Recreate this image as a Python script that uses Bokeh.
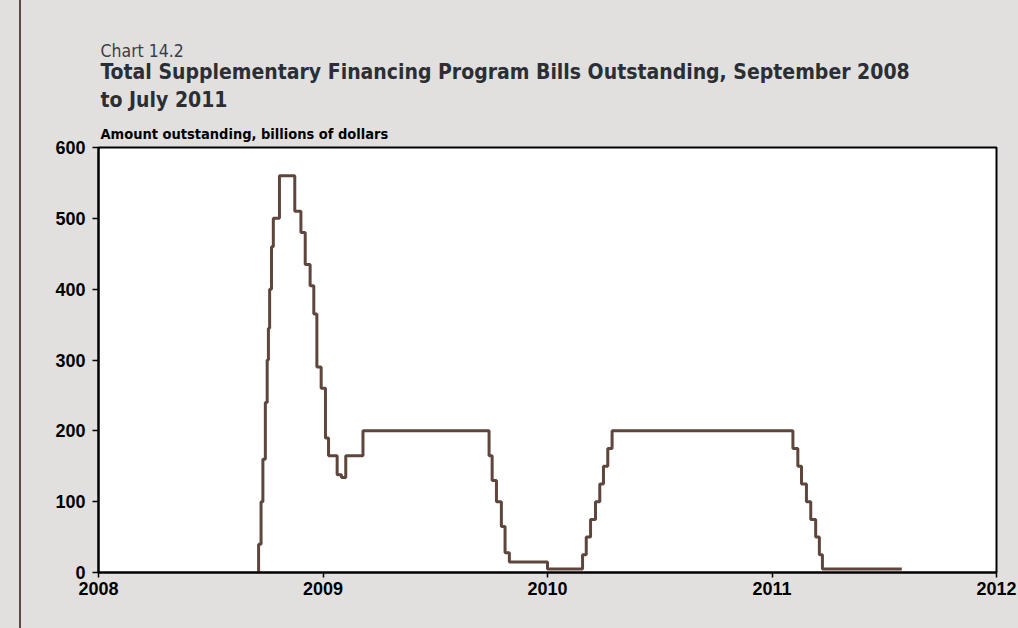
import pandas as pd
from bokeh.plotting import figure
from bokeh.models import Title, FixedTicker, Range1d
from bokeh.embed import file_html
from bokeh.resources import INLINE

# ---- data ----
dates = ["2008-09-17", "2008-09-18", "2008-09-22", "2008-09-25", "2008-09-29", "2008-10-02",
         "2008-10-04", "2008-10-06", "2008-10-09", "2008-10-12", "2008-10-22", "2008-11-16",
         "2008-11-26", "2008-12-03", "2008-12-11", "2008-12-17", "2008-12-22", "2008-12-29",
         "2009-01-05", "2009-01-10", "2009-01-24", "2009-01-31", "2009-02-07", "2009-03-07",
         "2009-09-28", "2009-10-03", "2009-10-10", "2009-10-18", "2009-10-24", "2009-10-31",
         "2010-01-01", "2010-02-27", "2010-03-05", "2010-03-12", "2010-03-20", "2010-03-27",
         "2010-04-02", "2010-04-09", "2010-04-16", "2011-02-04", "2011-02-12", "2011-02-18",
         "2011-02-26", "2011-03-05", "2011-03-13", "2011-03-19", "2011-03-24", "2011-07-31"]
values = [0, 40, 100, 160, 240, 300, 345, 400, 460, 500, 560, 510,
          480, 435, 405, 365, 290, 260, 190, 165, 138, 134, 165, 200,
          165, 130, 100, 65, 28, 15, 5, 25, 50, 75, 100, 125,
          150, 175, 200, 175, 150, 125, 100, 75, 50, 25, 5, 5]
x_ticks = [2008, 2009, 2010, 2011, 2012]
x_tick_labels = ["2008", "2009", "2010", "2011", "2012"]
y_ticks = [0, 100, 200, 300, 400, 500, 600]

chart_no = "Chart 14.2"
title_1 = "Total Supplementary Financing Program Bills Outstanding, September 2008"
title_2 = "to July 2011"
subtitle = "Amount outstanding, billions of dollars"


def to_year(s):
    d = pd.Timestamp(s)
    start = pd.Timestamp(year=d.year, month=1, day=1)
    end = pd.Timestamp(year=d.year + 1, month=1, day=1)
    return d.year + (d - start) / (end - start)


xs = [to_year(d) for d in dates]

BG = "#e2e0de"
RULE = "#5b4a41"
LINE = "#5e463d"
COND = "'DejaVu Sans Condensed', 'Liberation Sans', sans-serif"

p = figure(width=1018, height=628, x_range=Range1d(2008, 2012), y_range=Range1d(0, 600),
           output_backend="svg", toolbar_location=None, title=None,
           min_border_left=98, min_border_right=22, min_border_top=147, min_border_bottom=56,
           background_fill_color="white", border_fill_color=None,
           styles={"background": f"linear-gradient(to right, {BG} 19px, {RULE} 19px, "
                                 f"{RULE} 21.5px, {BG} 21.5px)"})
p.grid.visible = False
p.outline_line_color = "black"
p.outline_line_width = 2

p.step(xs, values, mode="after", line_color=LINE, line_width=3)

for ax in (p.xaxis[0], p.yaxis[0]):
    ax.axis_line_color = "black"
    ax.axis_line_width = 2
    ax.major_tick_line_color = "black"
    ax.major_tick_line_width = 1.5
    ax.minor_tick_line_color = None
    ax.major_tick_in = 0
    ax.major_label_text_font = "Liberation Sans"
    ax.major_label_text_font_style = "bold"
    ax.major_label_text_font_size = "18px"
    ax.major_label_text_color = "black"

p.xaxis.ticker = FixedTicker(ticks=x_ticks)
p.xaxis.major_label_overrides = {t: l for t, l in zip(x_ticks, x_tick_labels)}
p.xaxis.major_tick_out = 5
p.xaxis.major_label_standoff = 4
p.yaxis.ticker = FixedTicker(ticks=y_ticks)
p.yaxis.major_tick_out = 6
p.yaxis.major_label_standoff = 7

# titles stacked above the frame (first added = closest to the frame)
p.add_layout(Title(text=subtitle, text_font=COND, text_font_style="bold",
                   text_font_size="14.5px", text_color="black", offset=2, standoff=12), "above")
p.add_layout(Title(text=title_2, text_font=COND, text_font_style="bold",
                   text_font_size="21px", text_color="#2b2e34", offset=2, standoff=11), "above")
p.add_layout(Title(text=title_1, text_font=COND, text_font_style="bold",
                   text_font_size="21px", text_color="#2b2e34", offset=2, standoff=-7), "above")
p.add_layout(Title(text=chart_no, text_font=COND, text_font_style="normal",
                   text_font_size="17.5px", text_color="#3a3d44", offset=2, standoff=1), "above")

open("out.html", "w").write(file_html(p, INLINE))
